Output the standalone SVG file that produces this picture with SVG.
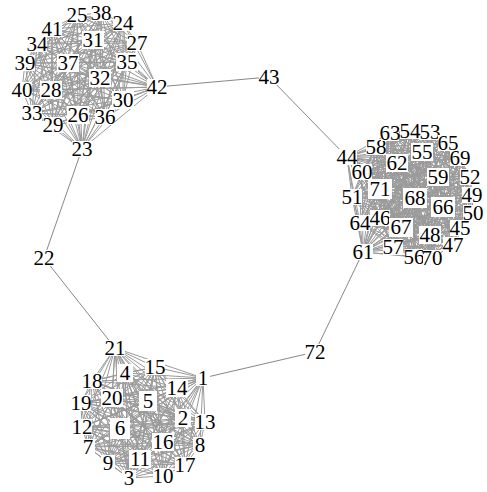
<svg xmlns="http://www.w3.org/2000/svg" width="487" height="492" viewBox="0 0 487 492">
<style>
.e{fill:none;stroke:#9a9a9a;stroke-width:1}
.b{fill:none;stroke:#888;stroke-width:1}
.n rect{fill:#fff;stroke:none}
.n text{font-family:"Liberation Serif","Times New Roman",serif;font-size:21px;fill:#000;text-anchor:middle}
</style>
<rect width="487" height="492" fill="#fff"/>
<g id="connectors">
<path class="b" d="M157 87L269 77L347 157M82 149L44 258L115 348M203 378L315 352L363 252"/>
<g id="clusterA-edges">
<path class="e" d="M77 15 101 13 51 90 123 23 100 78 137 43 68 63 127 62 93 40 157 87 52 29 123 100 37 44 105 117 25 63 82 149 22 90 78 115 32 113 53 125"/>
<path class="e" d="M101 13 123 23 77 15 137 43 51 90 127 62 100 78 157 87 68 63 123 100 93 40 105 117 52 29 82 149 37 44 78 115 25 63 53 125 22 90 32 113"/>
<path class="e" d="M123 23 137 43 101 13 127 62 77 15 157 87 51 90 123 100 100 78 105 117 68 63 82 149 93 40 78 115 52 29 53 125 37 44 32 113 25 63 22 90"/>
<path class="e" d="M137 43 127 62 123 23 157 87 101 13 123 100 77 15 105 117 51 90 82 149 100 78 78 115 68 63 53 125 93 40 32 113 52 29 22 90 37 44 25 63"/>
<path class="e" d="M127 62 157 87 137 43 123 100 123 23 105 117 101 13 82 149 77 15 78 115 51 90 53 125 100 78 32 113 68 63 22 90 93 40 25 63 52 29 37 44"/>
<path class="e" d="M157 87 123 100 127 62 105 117 137 43 82 149 123 23 78 115 101 13 53 125 77 15 32 113 51 90 22 90 100 78 25 63 68 63 37 44 93 40 52 29"/>
<path class="e" d="M123 100 105 117 157 87 82 149 127 62 78 115 137 43 53 125 123 23 32 113 101 13 22 90 77 15 25 63 51 90 37 44 100 78 52 29 68 63 93 40"/>
<path class="e" d="M105 117 82 149 123 100 78 115 157 87 53 125 127 62 32 113 137 43 22 90 123 23 25 63 101 13 37 44 77 15 52 29 51 90 93 40 100 78 68 63"/>
<path class="e" d="M82 149 78 115 105 117 53 125 123 100 32 113 157 87 22 90 127 62 25 63 137 43 37 44 123 23 52 29 101 13 93 40 77 15 68 63 51 90 100 78"/>
<path class="e" d="M78 115 53 125 82 149 32 113 105 117 22 90 123 100 25 63 157 87 37 44 127 62 52 29 137 43 93 40 123 23 68 63 101 13 100 78 77 15 51 90"/>
</g>
<g id="clusterB-edges">
<path class="e" d="M203 378 115 348M203 378 155 367M203 378 177 388M203 378 183 418M203 378 205 422M203 378 200 445M203 378 185 465M203 378 163 476M203 378 129 478M203 378 140 459M203 378 108 463M203 378 88 447M203 378 82 427M203 378 81 403M203 378 92 381M203 378 125 373M203 378 148 401M203 378 163 442M203 378 120 428M203 378 112 398"/>
<path class="e" d="M115 348 155 367 112 398 177 388 120 428 183 418 163 442 205 422 148 401 200 445 125 373 185 465 92 381 163 476 81 403 129 478 82 427 140 459 88 447 108 463"/>
<path class="e" d="M155 367 177 388 115 348 183 418 112 398 205 422 120 428 200 445 163 442 185 465 148 401 163 476 125 373 129 478 92 381 140 459 81 403 108 463 82 427 88 447"/>
<path class="e" d="M177 388 183 418 155 367 205 422 115 348 200 445 112 398 185 465 120 428 163 476 163 442 129 478 148 401 140 459 125 373 108 463 92 381 88 447 81 403 82 427"/>
<path class="e" d="M183 418 205 422 177 388 200 445 155 367 185 465 115 348 163 476 112 398 129 478 120 428 140 459 163 442 108 463 148 401 88 447 125 373 82 427 92 381 81 403"/>
<path class="e" d="M205 422 200 445 183 418 185 465 177 388 163 476 155 367 129 478 115 348 140 459 112 398 108 463 120 428 88 447 163 442 82 427 148 401 81 403 125 373 92 381"/>
<path class="e" d="M200 445 185 465 205 422 163 476 183 418 129 478 177 388 140 459 155 367 108 463 115 348 88 447 112 398 82 427 120 428 81 403 163 442 92 381 148 401 125 373"/>
<path class="e" d="M185 465 163 476 200 445 129 478 205 422 140 459 183 418 108 463 177 388 88 447 155 367 82 427 115 348 81 403 112 398 92 381 120 428 125 373 163 442 148 401"/>
<path class="e" d="M163 476 129 478 185 465 140 459 200 445 108 463 205 422 88 447 183 418 82 427 177 388 81 403 155 367 92 381 115 348 125 373 112 398 148 401 120 428 163 442"/>
<path class="e" d="M129 478 140 459 163 476 108 463 185 465 88 447 200 445 82 427 205 422 81 403 183 418 92 381 177 388 125 373 155 367 148 401 115 348 163 442 112 398 120 428"/>
<path class="e" d="M140 459 108 463 129 478 88 447 163 476 82 427 185 465 81 403 200 445 92 381 205 422 125 373 183 418 148 401 177 388 163 442 155 367 120 428 115 348 112 398"/>
</g>
<g id="clusterC-edges">
<path class="e" d="M347 157 376 147 415 198 390 133 380 189 410 131 380 218 430 132 401 227 448 143 430 235 460 158 443 207 470 177 438 177 472 195 422 152 473 213 397 163 460 228 362 172 453 245 352 197 432 258 360 223 414 257 363 252 393 247"/>
<path class="e" d="M376 147 390 133 347 157 410 131 415 198 430 132 380 189 448 143 380 218 460 158 401 227 470 177 430 235 472 195 443 207 473 213 438 177 460 228 422 152 453 245 397 163 432 258 362 172 414 257 352 197 393 247 360 223 363 252"/>
<path class="e" d="M390 133 410 131 376 147 430 132 347 157 448 143 415 198 460 158 380 189 470 177 380 218 472 195 401 227 473 213 430 235 460 228 443 207 453 245 438 177 432 258 422 152 414 257 397 163 393 247 362 172 363 252 352 197 360 223"/>
<path class="e" d="M410 131 430 132 390 133 448 143 376 147 460 158 347 157 470 177 415 198 472 195 380 189 473 213 380 218 460 228 401 227 453 245 430 235 432 258 443 207 414 257 438 177 393 247 422 152 363 252 397 163 360 223 362 172 352 197"/>
<path class="e" d="M430 132 448 143 410 131 460 158 390 133 470 177 376 147 472 195 347 157 473 213 415 198 460 228 380 189 453 245 380 218 432 258 401 227 414 257 430 235 393 247 443 207 363 252 438 177 360 223 422 152 352 197 397 163 362 172"/>
<path class="e" d="M448 143 460 158 430 132 470 177 410 131 472 195 390 133 473 213 376 147 460 228 347 157 453 245 415 198 432 258 380 189 414 257 380 218 393 247 401 227 363 252 430 235 360 223 443 207 352 197 438 177 362 172 422 152 397 163"/>
<path class="e" d="M460 158 470 177 448 143 472 195 430 132 473 213 410 131 460 228 390 133 453 245 376 147 432 258 347 157 414 257 415 198 393 247 380 189 363 252 380 218 360 223 401 227 352 197 430 235 362 172 443 207 397 163 438 177 422 152"/>
<path class="e" d="M470 177 472 195 460 158 473 213 448 143 460 228 430 132 453 245 410 131 432 258 390 133 414 257 376 147 393 247 347 157 363 252 415 198 360 223 380 189 352 197 380 218 362 172 401 227 397 163 430 235 422 152 443 207 438 177"/>
<path class="e" d="M472 195 473 213 470 177 460 228 460 158 453 245 448 143 432 258 430 132 414 257 410 131 393 247 390 133 363 252 376 147 360 223 347 157 352 197 415 198 362 172 380 189 397 163 380 218 422 152 401 227 438 177 430 235 443 207"/>
<path class="e" d="M473 213 460 228 472 195 453 245 470 177 432 258 460 158 414 257 448 143 393 247 430 132 363 252 410 131 360 223 390 133 352 197 376 147 362 172 347 157 397 163 415 198 422 152 380 189 438 177 380 218 443 207 401 227 430 235"/>
<path class="e" d="M460 228 453 245 473 213 432 258 472 195 414 257 470 177 393 247 460 158 363 252 448 143 360 223 430 132 352 197 410 131 362 172 390 133 397 163 376 147 422 152 347 157 438 177 415 198 443 207 380 189 430 235 380 218 401 227"/>
<path class="e" d="M453 245 432 258 460 228 414 257 473 213 393 247 472 195 363 252 470 177 360 223 460 158 352 197 448 143 362 172 430 132 397 163 410 131 422 152 390 133 438 177 376 147 443 207 347 157 430 235 415 198 401 227 380 189 380 218"/>
<path class="e" d="M432 258 414 257 453 245 393 247 460 228 363 252 473 213 360 223 472 195 352 197 470 177 362 172 460 158 397 163 448 143 422 152 430 132 438 177 410 131 443 207 390 133 430 235 376 147 401 227 347 157 380 218 415 198 380 189"/>
<path class="e" d="M414 257 393 247 432 258 363 252 453 245 360 223 460 228 352 197 473 213 362 172 472 195 397 163 470 177 422 152 460 158 438 177 448 143 443 207 430 132 430 235 410 131 401 227 390 133 380 218 376 147 380 189 347 157 415 198"/>
</g>
</g>
<g id="nodes">
<g id="n1" class="n"><rect x="196" y="370" width="14" height="16"/><text x="203" y="385">1</text></g>
<g id="n2" class="n"><rect x="175" y="409" width="16" height="18"/><text x="183" y="425">2</text></g>
<g id="n3" class="n"><rect x="122" y="470" width="14" height="16"/><text x="129" y="485">3</text></g>
<g id="n4" class="n"><rect x="117" y="364" width="16" height="18"/><text x="125" y="380">4</text></g>
<g id="n5" class="n"><rect x="139" y="391" width="18" height="20"/><text x="148" y="408">5</text></g>
<g id="n6" class="n"><rect x="110" y="418" width="20" height="21"/><text x="120" y="435">6</text></g>
<g id="n7" class="n"><rect x="81" y="439" width="14" height="16"/><text x="88" y="454">7</text></g>
<g id="n8" class="n"><rect x="193" y="437" width="14" height="16"/><text x="200" y="452">8</text></g>
<g id="n9" class="n"><rect x="101" y="455" width="14" height="16"/><text x="108" y="470">9</text></g>
<g id="n10" class="n"><rect x="153" y="468" width="20" height="16"/><text x="163" y="483">10</text></g>
<g id="n11" class="n"><rect x="129" y="450" width="22" height="18"/><text x="140" y="466">11</text></g>
<g id="n12" class="n"><rect x="72" y="419" width="20" height="16"/><text x="82" y="434">12</text></g>
<g id="n13" class="n"><rect x="195" y="414" width="20" height="16"/><text x="205" y="429">13</text></g>
<g id="n14" class="n"><rect x="166" y="379" width="22" height="18"/><text x="177" y="395">14</text></g>
<g id="n15" class="n"><rect x="145" y="359" width="20" height="16"/><text x="155" y="374">15</text></g>
<g id="n16" class="n"><rect x="152" y="433" width="22" height="18"/><text x="163" y="449">16</text></g>
<g id="n17" class="n"><rect x="175" y="457" width="20" height="16"/><text x="185" y="472">17</text></g>
<g id="n18" class="n"><rect x="82" y="373" width="20" height="16"/><text x="92" y="388">18</text></g>
<g id="n19" class="n"><rect x="71" y="395" width="20" height="16"/><text x="81" y="410">19</text></g>
<g id="n20" class="n"><rect x="101" y="389" width="22" height="18"/><text x="112" y="405">20</text></g>
<g id="n21" class="n"><rect x="105" y="340" width="20" height="16"/><text x="115" y="355">21</text></g>
<g id="n22" class="n"><rect x="34" y="250" width="20" height="16"/><text x="44" y="265">22</text></g>
<g id="n23" class="n"><rect x="72" y="141" width="20" height="16"/><text x="82" y="156">23</text></g>
<g id="n24" class="n"><rect x="113" y="15" width="20" height="16"/><text x="123" y="30">24</text></g>
<g id="n25" class="n"><rect x="67" y="7" width="20" height="16"/><text x="77" y="22">25</text></g>
<g id="n26" class="n"><rect x="67" y="106" width="22" height="18"/><text x="78" y="122">26</text></g>
<g id="n27" class="n"><rect x="127" y="35" width="20" height="16"/><text x="137" y="50">27</text></g>
<g id="n28" class="n"><rect x="40" y="81" width="22" height="18"/><text x="51" y="97">28</text></g>
<g id="n29" class="n"><rect x="43" y="117" width="20" height="16"/><text x="53" y="132">29</text></g>
<g id="n30" class="n"><rect x="112" y="91" width="22" height="18"/><text x="123" y="107">30</text></g>
<g id="n31" class="n"><rect x="82" y="31" width="22" height="18"/><text x="93" y="47">31</text></g>
<g id="n32" class="n"><rect x="89" y="69" width="22" height="18"/><text x="100" y="85">32</text></g>
<g id="n33" class="n"><rect x="22" y="105" width="20" height="16"/><text x="32" y="120">33</text></g>
<g id="n34" class="n"><rect x="27" y="36" width="20" height="16"/><text x="37" y="51">34</text></g>
<g id="n35" class="n"><rect x="116" y="53" width="22" height="18"/><text x="127" y="69">35</text></g>
<g id="n36" class="n"><rect x="95" y="109" width="20" height="16"/><text x="105" y="124">36</text></g>
<g id="n37" class="n"><rect x="57" y="54" width="22" height="18"/><text x="68" y="70">37</text></g>
<g id="n38" class="n"><rect x="91" y="5" width="20" height="16"/><text x="101" y="20">38</text></g>
<g id="n39" class="n"><rect x="15" y="55" width="20" height="16"/><text x="25" y="70">39</text></g>
<g id="n40" class="n"><rect x="12" y="82" width="20" height="16"/><text x="22" y="97">40</text></g>
<g id="n41" class="n"><rect x="42" y="21" width="20" height="16"/><text x="52" y="36">41</text></g>
<g id="n42" class="n"><rect x="147" y="79" width="20" height="16"/><text x="157" y="94">42</text></g>
<g id="n43" class="n"><rect x="259" y="69" width="20" height="16"/><text x="269" y="84">43</text></g>
<g id="n44" class="n"><rect x="337" y="149" width="20" height="16"/><text x="347" y="164">44</text></g>
<g id="n45" class="n"><rect x="450" y="220" width="20" height="16"/><text x="460" y="235">45</text></g>
<g id="n46" class="n"><rect x="370" y="210" width="20" height="16"/><text x="380" y="225">46</text></g>
<g id="n47" class="n"><rect x="443" y="237" width="20" height="16"/><text x="453" y="252">47</text></g>
<g id="n48" class="n"><rect x="419" y="226" width="22" height="18"/><text x="430" y="242">48</text></g>
<g id="n49" class="n"><rect x="462" y="187" width="20" height="16"/><text x="472" y="202">49</text></g>
<g id="n50" class="n"><rect x="463" y="205" width="20" height="16"/><text x="473" y="220">50</text></g>
<g id="n51" class="n"><rect x="342" y="189" width="20" height="16"/><text x="352" y="204">51</text></g>
<g id="n52" class="n"><rect x="460" y="169" width="20" height="16"/><text x="470" y="184">52</text></g>
<g id="n53" class="n"><rect x="420" y="124" width="20" height="16"/><text x="430" y="139">53</text></g>
<g id="n54" class="n"><rect x="400" y="123" width="20" height="16"/><text x="410" y="138">54</text></g>
<g id="n55" class="n"><rect x="411" y="143" width="22" height="18"/><text x="422" y="159">55</text></g>
<g id="n56" class="n"><rect x="405" y="249" width="18" height="16"/><text x="414" y="264">56</text></g>
<g id="n57" class="n"><rect x="383" y="239" width="20" height="16"/><text x="393" y="254">57</text></g>
<g id="n58" class="n"><rect x="366" y="139" width="20" height="16"/><text x="376" y="154">58</text></g>
<g id="n59" class="n"><rect x="427" y="168" width="22" height="18"/><text x="438" y="184">59</text></g>
<g id="n60" class="n"><rect x="352" y="164" width="20" height="16"/><text x="362" y="179">60</text></g>
<g id="n61" class="n"><rect x="353" y="244" width="20" height="16"/><text x="363" y="259">61</text></g>
<g id="n62" class="n"><rect x="386" y="154" width="22" height="18"/><text x="397" y="170">62</text></g>
<g id="n63" class="n"><rect x="381" y="125" width="18" height="16"/><text x="390" y="140">63</text></g>
<g id="n64" class="n"><rect x="350" y="215" width="20" height="16"/><text x="360" y="230">64</text></g>
<g id="n65" class="n"><rect x="438" y="135" width="20" height="16"/><text x="448" y="150">65</text></g>
<g id="n66" class="n"><rect x="431" y="197" width="24" height="20"/><text x="443" y="214">66</text></g>
<g id="n67" class="n"><rect x="389" y="218" width="24" height="19"/><text x="401" y="234">67</text></g>
<g id="n68" class="n"><rect x="403" y="188" width="24" height="20"/><text x="415" y="205">68</text></g>
<g id="n69" class="n"><rect x="450" y="150" width="20" height="16"/><text x="460" y="165">69</text></g>
<g id="n70" class="n"><rect x="423" y="250" width="18" height="16"/><text x="432" y="265">70</text></g>
<g id="n71" class="n"><rect x="368" y="179" width="24" height="20"/><text x="380" y="196">71</text></g>
<g id="n72" class="n"><rect x="305" y="344" width="20" height="16"/><text x="315" y="359">72</text></g>
</g>
</svg>
